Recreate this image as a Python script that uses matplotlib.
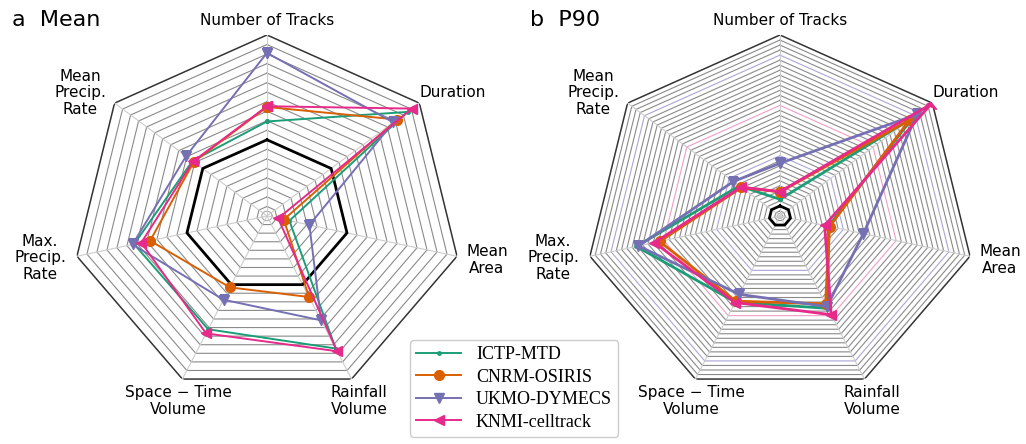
import numpy as np
import matplotlib; matplotlib.use("Agg"); import matplotlib.pyplot as plt

# axes of the radar, clockwise from the top
labels = ["Number of Tracks", "Duration", "Mean\nArea", "Rainfall\nVolume",
          "Space \u2212 Time\nVolume", "Max.\nPrecip.\nRate", "Mean\nPrecip.\nRate"]
models = ["ICTP-MTD", "CNRM-OSIRIS", "UKMO-DYMECS", "KNMI-celltrack"]

# panel a: mean, ratio to reference (black ring = 1)
mean_ictp = [1.24, 2.19, 0.28, 1.93, 1.65, 1.66, 1.16]
mean_cnrm = [1.43, 2.03, 0.21, 1.18, 1.04, 1.46, 1.14]
mean_ukmo = [2.14, 1.97, 0.53, 1.52, 1.22, 1.68, 1.26]
mean_knmi = [1.44, 2.26, 0.14, 1.97, 1.71, 1.57, 1.15]

# panel b: 90th percentile
p90_ictp = [1.66, 15.7, 4.6, 10.2, 9.5, 13.6, 4.8]
p90_cnrm = [2.4, 15.3, 4.7, 9.7, 9.4, 11.4, 4.55]
p90_ukmo = [5.24, 16.2, 7.9, 10.0, 8.65, 13.4, 5.5]
p90_knmi = [2.42, 17.8, 4.23, 10.9, 9.55, 11.9, 4.6]

# ring grids
mean_step, mean_nring = 0.125, 19
p90_step, p90_nring = 0.5, 36
p90_purple_rings = [12, 32]
p90_pink_rings = [22]

colors = ["#1b9e77", "#d95f02", "#7570b3", "#e7298a"]
markers = [".", "o", "v", "<"]
msizes = [5, 7, 7, 7]

N = len(labels)
theta = np.pi/2 - 2*np.pi*np.arange(N)/N
theta_c = np.append(theta, theta[0])

# label positions in axes fraction (same layout for both panels)
lab_pos = [(0.5, 1.041, "center"), (0.892, 0.840, "left"), (1.064, 0.378, "center"),
           (0.736, -0.011, "center"), (0.272, -0.011, "center"),
           (-0.082, 0.384, "center"), (0.021, 0.840, "center")]


def ring(ax, r, **kw):
    ax.plot(theta_c, np.full(N+1, r), **kw)


def radar(ax, series, step, nring, lw, colored=None):
    rmax = step*nring
    ax.set_aspect("auto")
    ax.grid(False)
    ax.set_xticks([]); ax.set_yticks([])
    ax.spines["polar"].set_visible(False)
    colored = colored or {}
    for k in range(1, nring):
        c = colored.get(k, "#8a8a8a")
        ring(ax, k*step, color=c, lw=0.8, zorder=1)
    ring(ax, rmax, color="#333333", lw=1.1, zorder=1)
    ring(ax, 1.0, color="black", lw=2.0, zorder=2)
    # small circle at the centre and the spokes
    tt = np.linspace(0, 2*np.pi, 60)
    ax.plot(tt, np.full(60, step*0.5), color="#aaaaaa", lw=0.8, zorder=1)
    for t in theta:
        ax.plot([t, t], [0, rmax], color="#cccccc", lw=0.8, zorder=1)
    for vals, c, m, ms, name in zip(series, colors, markers, msizes, models):
        v = np.append(vals, vals[0])
        ax.plot(theta_c, v, color=c, lw=lw, marker=m, ms=ms, label=name, zorder=3)
    ax.set_ylim(0, rmax)
    for (x, y, ha), lab in zip(lab_pos, labels):
        ax.text(x, y, lab, transform=ax.transAxes, ha=ha, va="center",
                fontsize=11, linespacing=1.15, clip_on=False)


fig = plt.figure(figsize=(10.26, 4.44), dpi=100)
ax_a = fig.add_axes([0.0702, 0.1059, 0.380, 0.8153], projection="polar")
ax_b = fig.add_axes([0.5702, 0.1059, 0.380, 0.8153], projection="polar")

radar(ax_a, [mean_ictp, mean_cnrm, mean_ukmo, mean_knmi], mean_step, mean_nring, 1.4)
col_b = {k: "#a9a5d6" for k in p90_purple_rings}
col_b.update({k: "#ef9cc4" for k in p90_pink_rings})
radar(ax_b, [p90_ictp, p90_cnrm, p90_ukmo, p90_knmi], p90_step, p90_nring, 2.0, col_b)

fig.text(12/1026, 1-20/444, "a  Mean", fontsize=16, va="center")
fig.text(530/1026, 1-20/444, "b  P90", fontsize=16, va="center")

h, l = ax_a.get_legend_handles_labels()
fig.legend(h, l, loc="upper left", bbox_to_anchor=(410/1026, 1-340/444),
           borderaxespad=0, prop={"family": "Liberation Serif", "size": 13},
           handlelength=2.5, handletextpad=0.8, labelspacing=0.3, borderpad=0.35,
           framealpha=1, edgecolor="#cccccc")

fig.savefig("out.png", dpi=100)
